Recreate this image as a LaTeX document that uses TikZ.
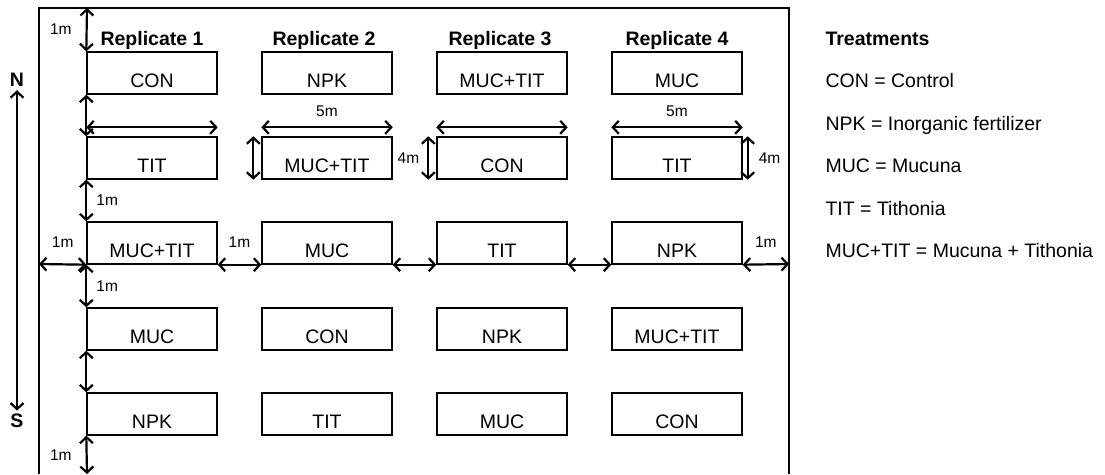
\documentclass[tikz,border=0pt]{standalone}
\usepackage{fontspec}
\setmainfont{Liberation Sans}
\usetikzlibrary{arrows.meta}

\tikzset{
    plot/.style={draw, line width=1.4pt, minimum width=130pt, minimum height=42pt,
        inner sep=0pt, text height=28pt, text depth=0pt, font=\fontsize{19.5}{22}\selectfont},
    rep/.style={anchor=base, font=\bfseries\fontsize{19.5}{22}\selectfont},
    key/.style={anchor=base west, font=\fontsize{19.5}{22}\selectfont},
    lab/.style={inner sep=0pt, font=\fontsize{15.5}{18}\selectfont},
    dim/.style={<->, line width=2.2pt, every edge/.append style={line width=2.2pt}},
    >={Straight Barb[length=6pt,width=13pt,line width=2.2pt]}
}

\begin{document}
\begin{tikzpicture}[x=1pt, y=-1pt]
                    \useasboundingbox (0, 0) rectangle (1105, 474);
                    % field border
                    \draw[line width=1.4pt] (39, 474) -- (39, 8) -- (789, 8) -- (789, 474);

                    \node[rep] at (152, 45) (rep1) {Replicate 1};
                    \node[rep] at (324, 45) (rep2) {Replicate 2};
                    \node[rep] at (500, 45) (rep3) {Replicate 3};
                    \node[rep] at (677, 45) (rep4) {Replicate 4};

                    \node[plot] at (152, 73) (CON_1) {CON};
                    \node[plot] at (327, 73) (NPK_2) {NPK};
                    \node[plot] at (502, 73) (MUCTIT_3) {MUC+TIT};
                    \node[plot] at (677, 73) (MUC_4) {MUC};

                    \node[plot] at (152, 158) (TIT_1) {TIT};
                    \node[plot] at (327, 158) (MUCTIT_2) {MUC+TIT};
                    \node[plot] at (502, 158) (CON_3) {CON};
                    \node[plot] at (677, 158) (TIT_4) {TIT};

                    \node[plot] at (152, 243) (MUCTIT_1) {MUC+TIT};
                    \node[plot] at (327, 243) (MUC_2) {MUC};
                    \node[plot] at (502, 243) (TIT_3) {TIT};
                    \node[plot] at (677, 243) (NPK_4) {NPK};

                    \node[plot] at (152, 329) (MUC_1) {MUC};
                    \node[plot] at (327, 329) (CON_2) {CON};
                    \node[plot] at (502, 329) (NPK_3) {NPK};
                    \node[plot] at (677, 329) (MUCTIT_4) {MUC+TIT};

                    \node[plot] at (152, 414) (NPK_1) {NPK};
                    \node[plot] at (327, 414) (TIT_2) {TIT};
                    \node[plot] at (502, 414) (MUC_3) {MUC};
                    \node[plot] at (677, 414) (CON_4) {CON};

                    \coordinate (top) at (87, 8);
                    \coordinate (bottom) at (87, 474);
                    \coordinate (west) at (39, 264);
                    \coordinate (east) at (789, 264);

                    \path[dim]
                        (top) edge node [lab, left, xshift=-14pt] {1m} (CON_1.north west)
                        (CON_1.south west) edge (TIT_1.north west)
                        (TIT_1.south west) edge node [lab, right, xshift=9pt] {1m} (MUCTIT_1.north west)
                        (MUCTIT_1.south west) edge node [lab, right, xshift=9pt] {1m} (MUC_1.north west)
                        (MUC_1.south west) edge (NPK_1.north west)
                        (NPK_1.south west) edge node [lab, left, xshift=-14pt] {1m} (bottom)
                        % gaps between replicates
                        (west) edge node [lab, above, yshift=16pt] {1m} (MUCTIT_1.south west)
                        (MUCTIT_1.south east) edge node [lab, above, yshift=16pt] {1m} (MUC_2.south west)
                        (MUC_2.south east) edge (TIT_3.south west)
                        (TIT_3.south east) edge (NPK_4.south west)
                        (NPK_4.south east) edge node [lab, above, yshift=16pt] {1m} (east)
                        % plot length
                        ([yshift=9pt]TIT_1.north west) edge ([yshift=9pt]TIT_1.north east)
                        ([yshift=9pt]MUCTIT_2.north west) edge node [lab, above, yshift=10pt] {5m} ([yshift=9pt]MUCTIT_2.north east)
                        ([yshift=9pt]CON_3.north west) edge ([yshift=9pt]CON_3.north east)
                        ([yshift=9pt]TIT_4.north west) edge node [lab, above, yshift=10pt] {5m} ([yshift=9pt]TIT_4.north east)
                        % plot width
                        ([xshift=-8pt]MUCTIT_2.north west) edge ([xshift=-8pt]MUCTIT_2.south west)
                        ([xshift=-8pt]CON_3.north west) edge node [lab, left, xshift=-8pt] {4m} ([xshift=-8pt]CON_3.south west)
                        ([xshift=5pt]TIT_4.north east) edge node [lab, right, xshift=10pt] {4m} ([xshift=5pt]TIT_4.south east);

                    % orientation
                    \node[font=\bfseries\fontsize{19.5}{22}\selectfont] at (17, 80) (N) {N};
                    \node[font=\bfseries\fontsize{19.5}{22}\selectfont] at (17, 421) (S) {S};
                    \draw[<->, line width=1.6pt] (N) -- (S);

                    % legend
                    \node[key] at (822, 45) (treat) {\textbf{Treatments}};
                    \node[key] at (822, 87) (k_con) {CON = Control};
                    \node[key] at (822, 130) (k_npk) {NPK = Inorganic fertilizer};
                    \node[key] at (822, 172) (k_muc) {MUC = Mucuna};
                    \node[key] at (822, 215) (k_tit) {TIT = Tithonia};
                    \node[key] at (822, 257) (k_mt) {MUC+TIT = Mucuna + Tithonia};
                \end{tikzpicture}
\end{document}
